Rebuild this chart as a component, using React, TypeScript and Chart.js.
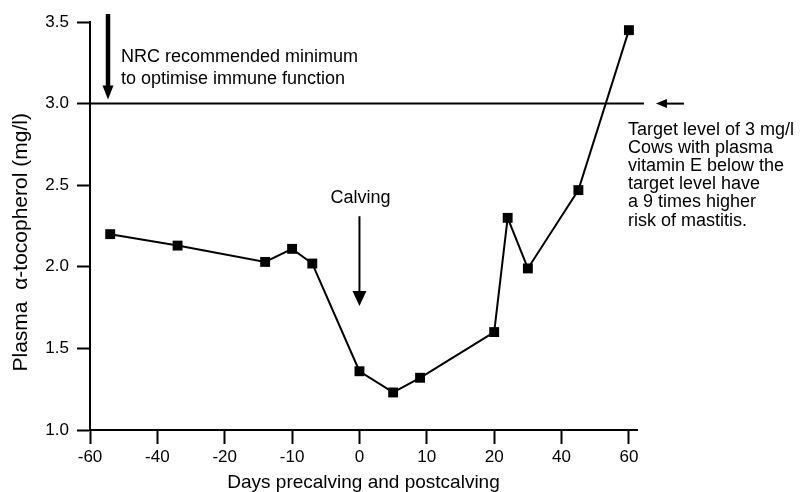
import React, { useEffect, useRef } from 'react';
import { Chart, registerables } from 'chart.js';

Chart.register(...registerables);

// ---- data ----
const tickDays = [-60, -40, -20, -10, 0, 10, 20, 40, 60];
const tickLabels = ['-60', '-40', '-20', '-10', '0', '10', '20', '40', '60'];
const sampleDays = [-54, -34, -14, -10, -7, 0, 5, 9, 20, 24, 30, 45, 60];
const tocopherol = [2.2, 2.13, 2.03, 2.11, 2.02, 1.36, 1.23, 1.32, 1.6, 2.3, 1.99, 2.47, 3.45];
const yMin = 1.0;
const yMax = 3.5;
const yStep = 0.5;
const targetLevel = 3.0;
const calvingDay = 0;
const yTitle = 'Plasma  \u03b1-tocopherol (mg/l)';
const xTitle = 'Days precalving and postcalving';
const nrcLines = ['NRC recommended minimum', 'to optimise immune function'];
const targetLines = [
  'Target level of 3 mg/l',
  'Cows with plasma',
  'vitamin E below the',
  'target level have',
  'a 9 times higher',
  'risk of mastitis.',
];

// the printed day axis is not linear: ticks are evenly spaced
function dayToPos(d: number): number {
  for (let i = 0; i < tickDays.length - 1; i++) {
    if (d <= tickDays[i + 1]) {
      return i + (d - tickDays[i]) / (tickDays[i + 1] - tickDays[i]);
    }
  }
  return tickDays.length - 1;
}

const FONT = '"Liberation Sans", Arial, Helvetica, sans-serif';

function arrowDown(ctx: CanvasRenderingContext2D, x: number, y0: number, y1: number, shaft: number, headH: number, headW: number) {
  ctx.save();
  ctx.strokeStyle = '#000';
  ctx.fillStyle = '#000';
  ctx.lineWidth = shaft;
  ctx.beginPath();
  ctx.moveTo(x, y0);
  ctx.lineTo(x, y1 - headH + 1);
  ctx.stroke();
  ctx.beginPath();
  ctx.moveTo(x - headW, y1 - headH);
  ctx.lineTo(x + headW, y1 - headH);
  ctx.lineTo(x, y1);
  ctx.closePath();
  ctx.fill();
  ctx.restore();
}

function arrowLeft(ctx: CanvasRenderingContext2D, y: number, xTail: number, xTip: number, shaft: number, headL: number, headW: number) {
  ctx.save();
  ctx.strokeStyle = '#000';
  ctx.fillStyle = '#000';
  ctx.lineWidth = shaft;
  ctx.beginPath();
  ctx.moveTo(xTail, y);
  ctx.lineTo(xTip + headL - 1, y);
  ctx.stroke();
  ctx.beginPath();
  ctx.moveTo(xTip + headL, y - headW);
  ctx.lineTo(xTip + headL, y + headW);
  ctx.lineTo(xTip, y);
  ctx.closePath();
  ctx.fill();
  ctx.restore();
}

const annotations = {
  id: 'annotations',
  afterDraw(chart: any) {
    const { ctx, chartArea, scales } = chart;
    const xs = scales.x;
    const ys = scales.y;
    const yT = ys.getPixelForValue(targetLevel);
    const x60 = xs.getPixelForValue(dayToPos(60));
    ctx.save();
    // target line
    ctx.strokeStyle = '#000';
    ctx.lineWidth = 2;
    ctx.beginPath();
    ctx.moveTo(chartArea.left, yT);
    ctx.lineTo(x60 + 15, yT);
    ctx.stroke();
    // target arrow
    arrowLeft(ctx, yT, x60 + 55, x60 + 27, 2, 11, 4.5);
    // target text
    ctx.fillStyle = '#000';
    ctx.font = '18px ' + FONT;
    ctx.textAlign = 'left';
    ctx.textBaseline = 'middle';
    targetLines.forEach((t, i) => ctx.fillText(t, x60 - 1, yT + 26 + i * 18.2));
    // NRC arrow + text
    const xN = chartArea.left + 18;
    arrowDown(ctx, xN, chartArea.top - 8, yT - 4, 4.5, 14, 5.5);
    nrcLines.forEach((t, i) => ctx.fillText(t, chartArea.left + 31, 57 + i * 22));
    // calving arrow + text
    const xC = xs.getPixelForValue(dayToPos(calvingDay));
    arrowDown(ctx, xC, ys.getPixelForValue(2.31), ys.getPixelForValue(1.76), 2, 15, 7);
    ctx.textAlign = 'center';
    ctx.fillText('Calving', xC + 1, ys.getPixelForValue(2.42));
    // y axis title
    ctx.save();
    ctx.translate(27, ys.getPixelForValue(2.15));
    ctx.rotate(-Math.PI / 2);
    ctx.font = '21px ' + FONT;
    ctx.textAlign = 'center';
    ctx.textBaseline = 'alphabetic';
    ctx.fillText(yTitle, 0, 0);
    ctx.restore();
    ctx.restore();
  },
};

export default function App() {
  const ref = useRef<HTMLCanvasElement | null>(null);
  useEffect(() => {
    document.body.style.margin = '0';
    const canvas = ref.current;
    if (!canvas) return;
    const chart = new Chart(canvas, {
      type: 'line',
      data: {
        datasets: [
          {
            data: sampleDays.map((d, i) => ({ x: dayToPos(d), y: tocopherol[i] })),
            borderColor: '#000',
            borderWidth: 2,
            pointStyle: 'rect',
            pointRadius: 7,
            pointBorderWidth: 0,
            pointBackgroundColor: '#000',
            tension: 0,
            clip: false,
          },
        ],
      },
      options: {
        responsive: false,
        animation: false,
        events: [],
        layout: { padding: { left: 0, top: 22, right: 164, bottom: 0 } },
        plugins: { legend: { display: false }, tooltip: { enabled: false } },
        scales: {
          x: {
            type: 'linear',
            min: 0,
            max: 8.12,
            afterBuildTicks: (axis: any) => {
              axis.ticks = tickDays.map((_, i) => ({ value: i }));
            },
            afterFit: (axis: any) => {
              axis.height = 62;
            },
            grid: { display: true, drawOnChartArea: false, drawTicks: true, tickLength: 14, tickWidth: 2, tickColor: '#000' },
            border: { display: true, width: 2, color: '#000' },
            ticks: {
              autoSkip: false,
              maxRotation: 0,
              padding: 3,
              color: '#000',
              font: { family: FONT, size: 17 },
              callback: (v: any) => tickLabels[Math.round(Number(v))],
            },
            title: {
              display: true,
              text: xTitle,
              color: '#000',
              font: { family: FONT, size: 19, lineHeight: 1 },
              padding: { top: 0, bottom: 0 },
            },
          },
          y: {
            type: 'linear',
            min: yMin,
            max: yMax,
            afterBuildTicks: (axis: any) => {
              const t = [];
              for (let v = yMin; v <= yMax + 1e-9; v += yStep) t.push({ value: Math.round(v * 10) / 10 });
              axis.ticks = t;
            },
            afterFit: (axis: any) => {
              axis.width = 90;
            },
            grid: { display: true, drawOnChartArea: false, drawTicks: true, tickLength: 13, tickWidth: 2, tickColor: '#000' },
            border: { display: true, width: 2, color: '#000' },
            ticks: {
              padding: 8,
              color: '#000',
              font: { family: FONT, size: 17 },
              callback: (v: any) => Number(v).toFixed(1),
            },
            title: { display: false },
          },
        },
      },
      plugins: [annotations],
    } as any);
    return () => chart.destroy();
  }, []);
  return <canvas ref={ref} width={801} height={492} style={{ display: 'block' }} />;
}
